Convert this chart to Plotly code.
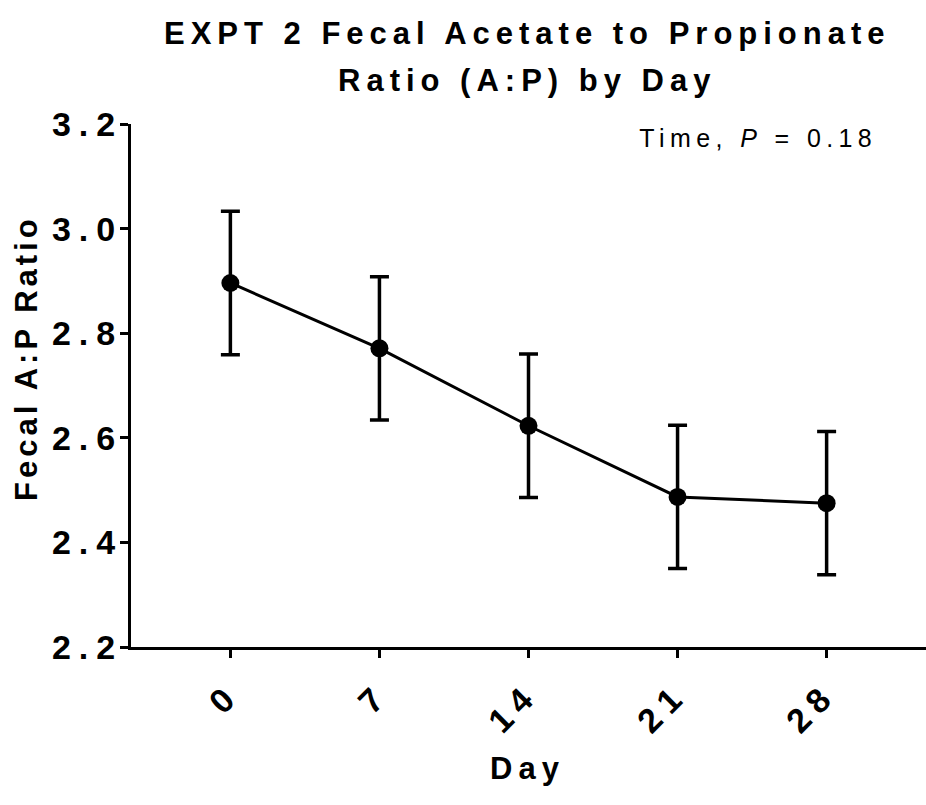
import plotly.graph_objects as go

# Fecal acetate:propionate ratio by sampling day (mean ± SEM)
days = [0, 7, 14, 21, 28]
ap_ratio = [2.896, 2.771, 2.623, 2.487, 2.475]
ap_sem = [0.137, 0.137, 0.137, 0.137, 0.137]
y_ticks = [2.2, 2.4, 2.6, 2.8, 3.0, 3.2]

FONT = "Liberation Sans, Arial, sans-serif"

# plot-area geometry in pixels (used to place free text in paper coords)
W, H = 926, 805
L, R, T, B = 131, 0, 124, 158
PW, PH = W - L - R, H - T - B


def px(x):
    return (x - L) / PW


def py(y):
    return (H - B - y) / PH


fig = go.Figure()
fig.add_trace(go.Scatter(
    x=days, y=ap_ratio,
    mode="lines+markers",
    line=dict(color="black", width=3),
    marker=dict(color="black", size=18),
    error_y=dict(type="data", array=ap_sem, visible=True,
                 color="black", thickness=3.5, width=9.5),
    showlegend=False,
))

annotations = [
    dict(text="<b>EXPT 2 Fecal Acetate to Propionate</b>", x=px(527), y=py(33),
         font=dict(size=31)),
    dict(text="<b>Ratio (A:P) by Day</b>", x=px(527), y=py(80),
         font=dict(size=31)),
    dict(text="<b>Fecal A:P Ratio</b>", x=px(26), y=py(358), textangle=-90,
         font=dict(size=31)),
    dict(text="<b>Day</b>", x=px(528), y=py(768), font=dict(size=31)),
    dict(text="Time, <i>P</i> = 0.18", x=px(758), y=py(138), font=dict(size=25)),
]
for a in annotations:
    a.update(xref="paper", yref="paper", showarrow=False,
             xanchor="center", yanchor="middle")
    a["font"].update(family=FONT, color="black")

fig.update_layout(
    width=W, height=H,
    margin=dict(l=L, r=R, t=T, b=B, pad=0),
    paper_bgcolor="white", plot_bgcolor="white",
    font=dict(family=FONT, color="black"),
    annotations=annotations,
    xaxis=dict(
        range=[-4.667, 32.667],
        tickvals=days, ticktext=[str(d) for d in days],
        tickangle=-45,
        tickfont=dict(size=34, family=FONT, weight="bold"),
        ticklabelstandoff=3,
        showline=True, linecolor="black", linewidth=3,
        ticks="outside", ticklen=8, tickwidth=3, tickcolor="black",
        showgrid=False, zeroline=False,
    ),
    yaxis=dict(
        range=[2.2, 3.2],
        tickvals=y_ticks, ticktext=[f"{v:.1f}" for v in y_ticks],
        tickfont=dict(size=34, family=FONT, weight="bold"),
        ticklabelstandoff=-10,
        showline=True, linecolor="black", linewidth=3,
        ticks="outside", ticklen=8, tickwidth=3, tickcolor="black",
        showgrid=False, zeroline=False,
    ),
)

# wide letter spacing for all chart text
post = """
var gd = document.querySelector('.plotly-graph-div');
var spacing = {0: '6px', 1: '6px', 2: '4px', 3: '6px', 4: '5.4px'};
gd.querySelectorAll('g.annotation').forEach(function(g){
  var i = g.getAttribute('data-index');
  g.querySelectorAll('text').forEach(function(t){ t.style.letterSpacing = spacing[i]; });
});
gd.querySelectorAll('g.xtick text, g.ytick text').forEach(function(t){
  t.style.letterSpacing = '8px';
});
"""

fig.write_html("out.html", post_script=post)
